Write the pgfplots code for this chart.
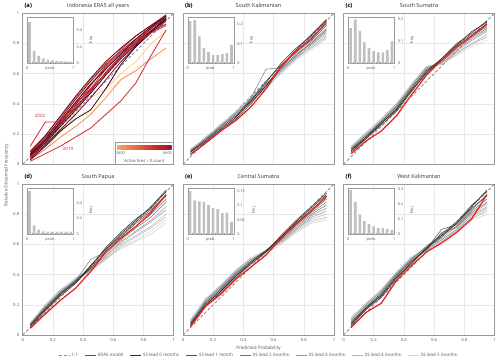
\documentclass[border=0pt]{standalone}
\usepackage{fontspec}
\setmainfont{Open Sans}
\usepackage{pgfplots}
\usepackage{pgfplotstable}
\pgfplotsset{compat=1.18}

\definecolor{framec}{HTML}{9A9A9A}
\definecolor{gridc}{HTML}{E8E8E8}
\definecolor{tickc}{HTML}{555555}
\definecolor{titlec}{HTML}{333333}
\definecolor{era}{HTML}{EE1C1C}
\definecolor{barc}{HTML}{BFBFBF}
\definecolor{diag}{HTML}{8A8A8A}
\definecolor{ld0}{HTML}{2E2E2E}
\definecolor{ld1}{HTML}{505050}
\definecolor{ld2}{HTML}{747474}
\definecolor{ld3}{HTML}{979797}
\definecolor{ld4}{HTML}{B5B5B5}
\definecolor{ld5}{HTML}{D2D2D2}
% colormap for active fire count
\definecolor{cmA}{RGB}{252,236,190}
\definecolor{cmB}{RGB}{246,185,120}
\definecolor{cmC}{RGB}{234,115,70}
\definecolor{cmD}{RGB}{205,40,48}
\definecolor{cmE}{RGB}{135,15,45}
\definecolor{cmF}{RGB}{50,5,30}
\pgfdeclarehorizontalshading{firecm}{100bp}{color(0bp)=(cmA); color(20bp)=(cmB); color(40bp)=(cmC); color(60bp)=(cmD); color(80bp)=(cmE); color(100bp)=(cmF)}

\pgfplotsset{
  panel/.style={
    scale only axis, width=151pt, height=151pt, anchor=south west,
    xmin=0, xmax=1, ymin=0, ymax=1,
    xtick={0,0.2,0.4,0.6,0.8,1}, ytick={0,0.2,0.4,0.6,0.8,1},
    scaled ticks=false,
    grid=major, major grid style={gridc, line width=0.5pt},
    axis line style={framec, line width=0.9pt},
    major tick length=0pt,
    tick label style={font=\fontsize{4.2}{5}\selectfont, text=tickc},
    /pgf/number format/assume math mode=true,
  },
  noxlab/.style={xticklabels={}},
  noylab/.style={yticklabels={}},
  inset/.style={
    scale only axis, width=46pt, height=46pt, anchor=south west,
    xmin=0, xmax=1, ymin=0, xtick={0,1},
    minor x tick num=9, minor tick length=1.2pt, major tick length=0pt,
    tick align=inside, minor tick style={framec, line width=0.4pt},
    scaled ticks=false,
    axis line style={framec, line width=0.6pt},
    yticklabel pos=right, ylabel near ticks,
    tick label style={font=\fontsize{3.8}{4.5}\selectfont, text=tickc},
    /pgf/number format/assume math mode=true,
    /pgf/number format/fixed,
    xlabel={prob.}, ylabel={freq.},
    label style={font=\fontsize{3.8}{4.5}\selectfont, text=tickc},
    xlabel style={at={(axis description cs:0.5,0)}, anchor=north},
    ylabel style={rotate=180},
    axis background/.style={fill=white},
  },
  hbar/.style={ybar, bar width=2.6pt, fill=barc, draw=none},
  onetoone/.style={diag, line width=0.8pt, dash pattern=on 3pt off 2pt},
  ss/.style={line width=0.5pt},
  fa/.style={line width=0.8pt},
  eraline/.style={era, line width=1.2pt},
}

% (a) Indonesia ERA5, one line per year
\pgfplotstableread{
x    l1   l2   or   y19  y02  d1   d2   d3   d4   d5   d6   d7   d8   d9   d10  d11  d12
0.05 0.05 0.04 0.03 0.02 0.12 0.05 0.08 0.06 0.07 0.05 0.09 0.04 0.03 0.06 0.08 0.05 0.06
0.15 0.12 0.10 0.10 0.07 0.28 0.16 0.18 0.15 0.17 0.14 0.19 0.13 0.12 0.17 0.19 0.15 0.16
0.25 0.21 0.22 0.18 0.12 0.28 0.28 0.29 0.26 0.30 0.25 0.31 0.23 0.22 0.27 0.32 0.27 0.28
0.35 0.32 0.34 0.25 0.18 0.40 0.40 0.41 0.38 0.43 0.36 0.44 0.33 0.30 0.39 0.45 0.37 0.41
0.45 0.34 0.44 0.33 0.24 0.50 0.50 0.53 0.49 0.55 0.47 0.56 0.44 0.36 0.52 0.57 0.48 0.53
0.55 0.47 0.50 0.44 0.33 0.60 0.63 0.64 0.60 0.66 0.59 0.67 0.56 0.50 0.65 0.68 0.61 0.63
0.65 0.56 0.60 0.56 0.42 0.71 0.73 0.74 0.71 0.75 0.70 0.75 0.68 0.66 0.76 0.77 0.72 0.73
0.75 0.64 0.68 0.62 0.54 0.80 0.81 0.82 0.80 0.83 0.79 0.82 0.78 0.78 0.85 0.85 0.81 0.83
0.85 0.70 0.80 0.70 0.72 0.87 0.88 0.90 0.89 0.91 0.88 0.89 0.87 0.88 0.92 0.92 0.90 0.91
0.95 0.74 0.88 0.77 0.89 0.92 0.93 0.97 0.96 0.98 0.97 0.95 0.95 0.96 0.98 0.99 0.97 0.98
}\tabA

% (b)-(f): ERA5 (r) and seasonal forecast members by lead (g0..g5)
\pgfplotstableread{
x    r     g0a  g0b  g1a  g1b  g2a  g2b  g3a  g3b  g4a  g4b  g5a  g5b
0.05 0.065 0.07 0.08 0.08 0.09 0.08 0.09 0.09 0.08 0.10 0.09 0.10 0.10
0.15 0.14  0.14 0.15 0.16 0.15 0.17 0.16 0.17 0.16 0.17 0.18 0.18 0.17
0.25 0.22  0.22 0.23 0.24 0.23 0.25 0.24 0.25 0.26 0.26 0.25 0.27 0.26
0.35 0.29  0.30 0.31 0.32 0.31 0.33 0.32 0.34 0.33 0.34 0.35 0.35 0.34
0.45 0.38  0.40 0.42 0.41 0.43 0.42 0.44 0.43 0.41 0.42 0.44 0.43 0.42
0.55 0.50  0.52 0.54 0.52 0.55 0.53 0.63 0.52 0.51 0.50 0.52 0.51 0.50
0.65 0.65  0.65 0.67 0.64 0.66 0.63 0.64 0.62 0.63 0.61 0.62 0.60 0.61
0.75 0.75  0.76 0.77 0.75 0.74 0.72 0.73 0.71 0.72 0.70 0.71 0.69 0.70
0.85 0.83  0.86 0.85 0.84 0.82 0.81 0.80 0.79 0.80 0.78 0.77 0.76 0.78
0.95 0.94  0.96 0.95 0.93 0.92 0.90 0.89 0.87 0.88 0.85 0.84 0.83 0.86
}\tabB
\pgfplotstableread{
x    r     g0a  g0b  g1a  g1b  g2a  g2b  g3a  g3b  g4a  g4b  g5a  g5b
0.05 0.07  0.08 0.09 0.09 0.10 0.10 0.09 0.11 0.10 0.11 0.12 0.12 0.11
0.15 0.155 0.17 0.18 0.17 0.18 0.19 0.18 0.19 0.20 0.20 0.21 0.20 0.21
0.25 0.22  0.26 0.27 0.27 0.28 0.28 0.27 0.29 0.28 0.29 0.30 0.29 0.30
0.35 0.32  0.35 0.36 0.37 0.36 0.38 0.37 0.39 0.38 0.39 0.40 0.39 0.40
0.45 0.46  0.48 0.49 0.50 0.49 0.51 0.50 0.51 0.52 0.52 0.53 0.53 0.52
0.55 0.59  0.61 0.60 0.62 0.61 0.62 0.63 0.63 0.64 0.64 0.65 0.65 0.64
0.65 0.69  0.70 0.69 0.70 0.69 0.68 0.69 0.68 0.67 0.67 0.66 0.67 0.66
0.75 0.78  0.80 0.79 0.79 0.78 0.77 0.77 0.76 0.75 0.74 0.73 0.72 0.74
0.85 0.85  0.87 0.88 0.86 0.85 0.85 0.84 0.83 0.82 0.80 0.80 0.78 0.79
0.95 0.93  0.95 0.94 0.93 0.92 0.91 0.90 0.89 0.88 0.86 0.84 0.82 0.85
}\tabC
\pgfplotstableread{
x    r     g0a  g0b  g1a  g1b  g2a  g2b  g3a  g3b  g4a  g4b  g5a  g5b
0.05 0.044 0.06 0.05 0.06 0.07 0.06 0.07 0.07 0.06 0.07 0.08 0.08 0.07
0.15 0.14  0.17 0.16 0.17 0.18 0.18 0.17 0.19 0.18 0.19 0.20 0.19 0.20
0.25 0.23  0.27 0.26 0.27 0.28 0.28 0.27 0.29 0.28 0.29 0.30 0.29 0.30
0.35 0.31  0.35 0.34 0.36 0.35 0.36 0.35 0.36 0.37 0.37 0.36 0.37 0.38
0.45 0.42  0.46 0.45 0.44 0.46 0.50 0.44 0.43 0.44 0.43 0.42 0.43 0.44
0.55 0.55  0.57 0.58 0.56 0.57 0.55 0.54 0.53 0.52 0.51 0.50 0.50 0.51
0.65 0.64  0.67 0.68 0.66 0.65 0.64 0.63 0.61 0.62 0.60 0.59 0.58 0.57
0.75 0.72  0.76 0.77 0.75 0.74 0.72 0.71 0.69 0.68 0.66 0.65 0.63 0.62
0.85 0.81  0.85 0.84 0.83 0.82 0.80 0.78 0.76 0.75 0.72 0.71 0.69 0.67
0.95 0.93  0.96 0.95 0.93 0.92 0.90 0.88 0.85 0.83 0.80 0.78 0.76 0.74
}\tabD
\pgfplotstableread{
x    r     g0a  g0b  g1a  g1b  g2a  g2b  g3a  g3b  g4a  g4b  g5a  g5b
0.05 0.055 0.06 0.07 0.07 0.08 0.08 0.07 0.09 0.08 0.09 0.10 0.10 0.09
0.15 0.19  0.19 0.20 0.20 0.21 0.21 0.22 0.22 0.23 0.23 0.24 0.24 0.23
0.25 0.27  0.28 0.29 0.29 0.30 0.30 0.31 0.31 0.32 0.32 0.33 0.33 0.32
0.35 0.37  0.38 0.39 0.39 0.40 0.40 0.41 0.41 0.42 0.42 0.43 0.43 0.42
0.45 0.45  0.47 0.48 0.47 0.48 0.49 0.49 0.49 0.50 0.50 0.51 0.50 0.49
0.55 0.53  0.55 0.56 0.55 0.56 0.55 0.56 0.55 0.56 0.55 0.56 0.55 0.54
0.65 0.64  0.66 0.65 0.65 0.64 0.64 0.63 0.63 0.62 0.62 0.61 0.61 0.60
0.75 0.74  0.76 0.75 0.74 0.73 0.73 0.72 0.71 0.70 0.70 0.69 0.68 0.68
0.85 0.82  0.85 0.84 0.83 0.82 0.81 0.80 0.79 0.78 0.77 0.76 0.75 0.74
0.95 0.92  0.94 0.93 0.91 0.90 0.88 0.86 0.84 0.82 0.80 0.78 0.77 0.76
}\tabE
\pgfplotstableread{
x    r     g0a  g0b  g1a  g1b  g2a  g2b  g3a  g3b  g4a  g4b  g5a  g5b
0.05 0.05  0.06 0.07 0.07 0.08 0.08 0.09 0.09 0.10 0.10 0.11 0.11 0.12
0.15 0.15  0.17 0.18 0.17 0.18 0.19 0.18 0.19 0.20 0.20 0.21 0.20 0.21
0.25 0.21  0.25 0.26 0.27 0.26 0.27 0.28 0.28 0.29 0.29 0.30 0.30 0.29
0.35 0.36  0.37 0.38 0.39 0.38 0.39 0.40 0.40 0.41 0.40 0.41 0.42 0.41
0.45 0.46  0.48 0.47 0.49 0.48 0.50 0.49 0.51 0.50 0.50 0.51 0.52 0.51
0.55 0.55  0.57 0.58 0.57 0.58 0.59 0.56 0.58 0.57 0.56 0.57 0.58 0.56
0.65 0.61  0.66 0.67 0.70 0.65 0.66 0.68 0.64 0.63 0.62 0.63 0.64 0.62
0.75 0.68  0.74 0.75 0.73 0.74 0.72 0.71 0.72 0.70 0.69 0.70 0.68 0.69
0.85 0.77  0.85 0.86 0.83 0.84 0.82 0.81 0.80 0.79 0.78 0.77 0.76 0.77
0.95 0.93  0.96 0.95 0.93 0.92 0.90 0.88 0.87 0.85 0.84 0.82 0.80 0.83
}\tabF

% forecast members, light to dark, then ERA5 on top
\newcommand{\ssplots}[1]{%
  \addplot[onetoone] coordinates {(0,0) (1,1)};
  \addplot[ss, ld5] table[x=x, y=g5a] {#1};
  \addplot[ss, ld5] table[x=x, y=g5b] {#1};
  \addplot[ss, ld4] table[x=x, y=g4a] {#1};
  \addplot[ss, ld4] table[x=x, y=g4b] {#1};
  \addplot[ss, ld3] table[x=x, y=g3a] {#1};
  \addplot[ss, ld3] table[x=x, y=g3b] {#1};
  \addplot[ss, ld2] table[x=x, y=g2a] {#1};
  \addplot[ss, ld2] table[x=x, y=g2b] {#1};
  \addplot[ss, ld1] table[x=x, y=g1a] {#1};
  \addplot[ss, ld1] table[x=x, y=g1b] {#1};
  \addplot[ss, ld0] table[x=x, y=g0a] {#1};
  \addplot[ss, ld0] table[x=x, y=g0b] {#1};
  \addplot[eraline] table[x=x, y=r] {#1};
}

\newcommand{\tsize}{\fontsize{5.5}{7}\selectfont}

\begin{document}
\begin{tikzpicture}
\useasboundingbox (0,0) rectangle (500pt,362pt);

% ---------- (a)
\begin{axis}[panel, noxlab, at={(22.7pt,197.7pt)}]
  \addplot[onetoone] coordinates {(0,0) (1,1)};
  \addplot[fa, cmA] table[x=x, y=l1] {\tabA};
  \addplot[fa, cmB!60!cmA] table[x=x, y=l2] {\tabA};
  \addplot[fa, cmB!40!cmC] table[x=x, y=or] {\tabA};
  \addplot[fa, cmD] table[x=x, y=d1] {\tabA};
  \addplot[fa, cmD!50!cmE] table[x=x, y=d2] {\tabA};
  \addplot[fa, cmE] table[x=x, y=d3] {\tabA};
  \addplot[fa, cmE!60!cmF] table[x=x, y=d4] {\tabA};
  \addplot[fa, cmF] table[x=x, y=d5] {\tabA};
  \addplot[fa, cmC!60!cmD] table[x=x, y=d6] {\tabA};
  \addplot[fa, cmE] table[x=x, y=d7] {\tabA};
  \addplot[fa, cmF] table[x=x, y=d8] {\tabA};
  \addplot[fa, cmD] table[x=x, y=d9] {\tabA};
  \addplot[fa, cmE!50!cmF] table[x=x, y=d10] {\tabA};
  \addplot[fa, cmD!40!cmE] table[x=x, y=d11] {\tabA};
  \addplot[fa, cmF!70!cmE] table[x=x, y=d12] {\tabA};
  \addplot[fa, cmD] table[x=x, y=y19] {\tabA};
  \addplot[fa, cmD] table[x=x, y=y02] {\tabA};
\end{axis}
\node[text=cmD, font=\fontsize{4.5}{5}\selectfont] at (40pt,246pt) {2002};
\node[text=cmD, font=\fontsize{4.5}{5}\selectfont] at (68pt,213pt) {2019};
% colour bar
\draw[framec, fill=white, line width=0.5pt] (115pt,198.2pt) rectangle (173.6pt,219.5pt);
\shade[shading=firecm] (117pt,213pt) rectangle (171.5pt,216.5pt);
\node[text=tickc, font=\fontsize{3.8}{4.5}\selectfont] at (120.5pt,209.3pt) {3800};
\node[text=tickc, font=\fontsize{3.8}{4.5}\selectfont] at (167.5pt,209.3pt) {6600};
\node[text=tickc, font=\fontsize{4.2}{5}\selectfont] at (144.3pt,201.2pt) {Active fires > 0 count};

\begin{axis}[inset, at={(27.2pt,298.7pt)}, ymax=0.56, ytick={0,0.2,0.4}]
  \addplot[hbar] coordinates {(0.05,0.50) (0.15,0.15) (0.25,0.09) (0.35,0.06) (0.45,0.045) (0.55,0.035) (0.65,0.03) (0.75,0.025) (0.85,0.02) (0.95,0.02)};
\end{axis}

% ---------- (b)
\begin{axis}[panel, noxlab, noylab, at={(183pt,197.7pt)}]
  \ssplots{\tabB}
\end{axis}
\begin{axis}[inset, at={(187.8pt,298.7pt)}, ymax=0.235, ytick={0,0.1,0.2}]
  \addplot[hbar] coordinates {(0.05,0.215) (0.15,0.22) (0.25,0.138) (0.35,0.078) (0.45,0.057) (0.55,0.043) (0.65,0.043) (0.75,0.047) (0.85,0.052) (0.95,0.095)};
\end{axis}

% ---------- (c)
\begin{axis}[panel, noxlab, noylab, at={(343.5pt,197.7pt)}]
  \ssplots{\tabC}
\end{axis}
\begin{axis}[inset, at={(348.3pt,298.7pt)}, ymax=0.21, ytick={0,0.1,0.2}]
  \addplot[hbar] coordinates {(0.05,0.16) (0.15,0.20) (0.25,0.148) (0.35,0.097) (0.45,0.07) (0.55,0.055) (0.65,0.05) (0.75,0.05) (0.85,0.06) (0.95,0.10)};
\end{axis}

% ---------- (d)
\begin{axis}[panel, at={(22.7pt,27pt)}]
  \ssplots{\tabD}
\end{axis}
\begin{axis}[inset, at={(27.2pt,128pt)}, ymax=0.59, ytick={0,0.2,0.4}]
  \addplot[hbar] coordinates {(0.05,0.55) (0.15,0.11) (0.25,0.057) (0.35,0.035) (0.45,0.03) (0.55,0.03) (0.65,0.03) (0.75,0.03) (0.85,0.03) (0.95,0.03)};
\end{axis}

% ---------- (e)
\begin{axis}[panel, noylab, at={(183pt,27pt)}]
  \ssplots{\tabE}
\end{axis}
\begin{axis}[inset, at={(187.8pt,128pt)}, ymax=0.162, ytick={0,0.05,0.1,0.15}]
  \addplot[hbar] coordinates {(0.05,0.152) (0.15,0.118) (0.25,0.115) (0.35,0.112) (0.45,0.102) (0.55,0.091) (0.65,0.088) (0.75,0.074) (0.85,0.075) (0.95,0.043)};
\end{axis}

% ---------- (f)
\begin{axis}[panel, noylab, at={(343.5pt,27pt)}]
  \ssplots{\tabF}
\end{axis}
\begin{axis}[inset, at={(348.3pt,128pt)}, ymax=0.31, ytick={0,0.1,0.2,0.3}]
  \addplot[hbar] coordinates {(0.05,0.295) (0.15,0.216) (0.25,0.132) (0.35,0.086) (0.45,0.068) (0.55,0.052) (0.65,0.041) (0.75,0.041) (0.85,0.034) (0.95,0.027)};
\end{axis}

% ---------- legend
\begin{axis}[hide axis, scale only axis, width=151pt, height=151pt, anchor=south west,
    at={(183pt,27pt)}, xmin=0, xmax=1, ymin=0, ymax=1,
    legend style={at={(0.5,-0.137)}, anchor=center, legend columns=-1,
      draw=none, fill=none, inner sep=0pt, font=\fontsize{4.5}{5.5}\selectfont, text=tickc,
      nodes={inner sep=1pt},
      /tikz/every even column/.append style={column sep=5.5pt}},
    legend image code/.code={\draw[#1] (0pt,0pt) -- (11pt,0pt);}]
  \addlegendimage{onetoone}
  \addlegendentry{1:1}
  \addlegendimage{era, line width=1.4pt}
  \addlegendentry{ERA5 model}
  \addlegendimage{ld0, line width=1.4pt}
  \addlegendentry{SS lead 0 months}
  \addlegendimage{ld1, line width=1.4pt}
  \addlegendentry{SS lead 1 month}
  \addlegendimage{ld2, line width=1.4pt}
  \addlegendentry{SS lead 2 months}
  \addlegendimage{ld3, line width=1.4pt}
  \addlegendentry{SS lead 3 months}
  \addlegendimage{ld4, line width=1.4pt}
  \addlegendentry{SS lead 4 months}
  \addlegendimage{ld5, line width=1.4pt}
  \addlegendentry{SS lead 5 months}
\end{axis}

% ---------- titles and axis labels
\node[anchor=base west, font=\bfseries\fontsize{5.8}{7}\selectfont] at (21pt,354pt) {(a)};
\node[anchor=base west, font=\bfseries\fontsize{5.8}{7}\selectfont] at (181.5pt,354pt) {(b)};
\node[anchor=base west, font=\bfseries\fontsize{5.8}{7}\selectfont] at (342pt,354pt) {(c)};
\node[anchor=base west, font=\bfseries\fontsize{5.8}{7}\selectfont] at (21pt,183.5pt) {(d)};
\node[anchor=base west, font=\bfseries\fontsize{5.8}{7}\selectfont] at (181.5pt,183.5pt) {(e)};
\node[anchor=base west, font=\bfseries\fontsize{5.8}{7}\selectfont] at (342pt,183.5pt) {(f)};
\node[anchor=base, text=titlec, font=\tsize] at (98.2pt,354pt) {Indonesia ERA5 all years};
\node[anchor=base, text=titlec, font=\tsize] at (258.5pt,354pt) {South Kalimantan};
\node[anchor=base, text=titlec, font=\tsize] at (419pt,354pt) {South Sumatra};
\node[anchor=base, text=titlec, font=\tsize] at (98.2pt,183.5pt) {South Papua};
\node[anchor=base, text=titlec, font=\tsize] at (258.5pt,183.5pt) {Central Sumatra};
\node[anchor=base, text=titlec, font=\tsize] at (419pt,183.5pt) {West Kalimantan};
\node[rotate=90, text=tickc, font=\fontsize{4.6}{5.5}\selectfont] at (6.5pt,187pt) {Relative Observed Frequency};
\node[text=tickc, font=\fontsize{4.6}{5.5}\selectfont] at (258.5pt,14pt) {Predicted Probability};
\end{tikzpicture}
\end{document}
